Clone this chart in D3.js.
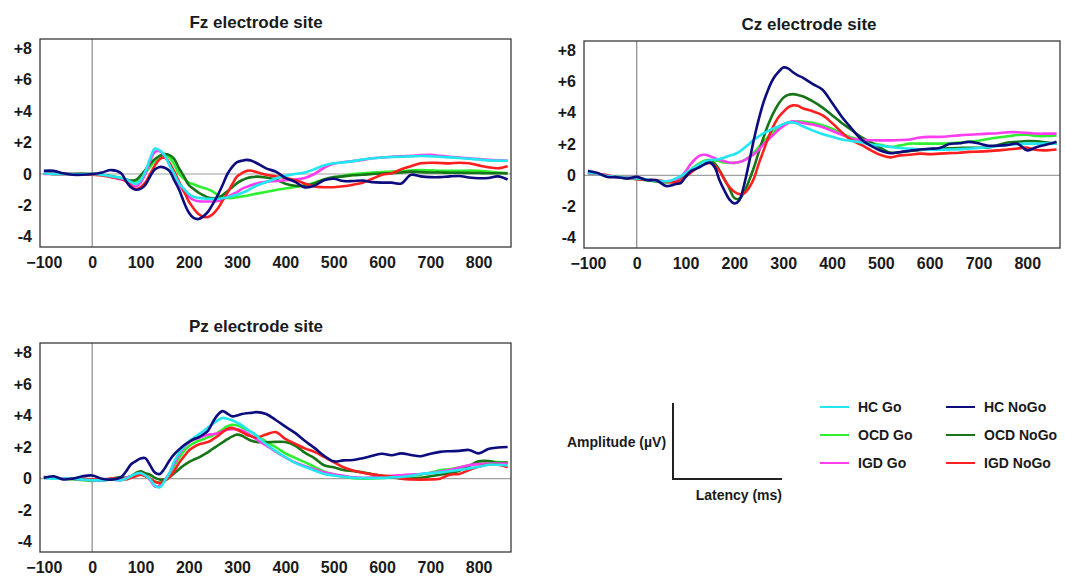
<!DOCTYPE html>
<html><head><meta charset="utf-8">
<script src="https://cdn.jsdelivr.net/npm/d3@7/dist/d3.min.js"></script>
<style>
body{margin:0;background:#fff}
svg{display:block;font-family:"Liberation Sans",Arial,Helvetica,sans-serif;font-weight:bold;}
</style>
</head><body>
<svg id="chart" width="1065" height="578"></svg>
<script>
// ---------------- DATA ----------------
const times = [-100,-80,-60,-40,-20,0,20,40,
  60,70,80,90,100,110,120,130,140,150,160,170,180,190,200,210,220,230,240,250,260,270,280,290,300,310,320,330,340,
  360,380,400,420,440,460,480,500,520,540,560,580,600,620,640,660,680,700,720,740,760,780,800,820,840,860];

const seriesNames  = ["HC Go","HC NoGo","OCD Go","OCD NoGo","IGD Go","IGD NoGo"];
const seriesColors = ["#22e6f0","#0c0c7e","#2ff02f","#167516","#ff3cf0","#ff1f1f"];
const xTicks = [-100,0,100,200,300,400,500,600,700,800];
const yTicks = [-4,-2,0,2,4,6,8];
const panelTitles = ["Fz electrode site","Cz electrode site","Pz electrode site"];

// Fz
const fzHCGo = [0.05,0,0,0,0,0,-0.05,-0.15,
  -0.25,-0.35,-0.5,-0.63,-0.4,0.15,1.0,1.62,1.5,1.2,0.55,0.0,-0.6,-0.95,-1.28,-1.45,-1.52,-1.56,-1.58,-1.6,-1.58,-1.55,-1.48,-1.4,-1.32,-1.2,-1.08,-0.9,-0.75,
  -0.52,-0.28,-0.12,0.0,0.1,0.3,0.55,0.68,0.74,0.82,0.92,1.0,1.05,1.08,1.1,1.12,1.15,1.13,1.1,1.06,1.02,0.97,0.92,0.87,0.85,0.84];
const fzHCNoGo = [0.2,0.2,0.05,-0.05,-0.05,0,0.1,0.25,
  0.05,-0.45,-0.85,-1.0,-0.95,-0.7,-0.15,0.3,0.45,0.4,0.2,-0.4,-1.0,-1.8,-2.45,-2.8,-2.87,-2.7,-2.4,-1.9,-1.35,-0.7,0.0,0.45,0.75,0.85,0.9,0.85,0.7,
  0.36,0.15,-0.25,-0.5,-0.85,-0.75,-0.4,-0.3,-0.45,-0.45,-0.42,-0.52,-0.55,-0.55,-0.6,-0.05,-0.15,-0.2,-0.2,-0.15,-0.13,-0.22,-0.27,-0.25,-0.15,-0.35];
const fzOCDGo = [0.05,0,0,0,0.05,0,-0.05,-0.15,
  -0.25,-0.35,-0.47,-0.45,-0.25,0.05,0.45,0.85,1.15,1.27,1.05,0.6,0.0,-0.3,-0.55,-0.65,-0.78,-0.88,-0.98,-1.12,-1.35,-1.48,-1.53,-1.53,-1.48,-1.43,-1.38,-1.32,-1.25,
  -1.15,-1.02,-0.92,-0.82,-0.72,-0.55,-0.35,-0.25,-0.12,0.0,0.05,0.1,0.13,0.15,0.18,0.22,0.25,0.23,0.21,0.2,0.2,0.22,0.2,0.15,0.1,0.05];
const fzOCDNoGo = [0.05,0,0,0,0,0,-0.05,-0.15,
  -0.3,-0.35,-0.42,-0.38,-0.1,0.25,0.65,0.95,1.15,1.27,1.2,0.95,0.35,-0.15,-0.7,-0.95,-1.18,-1.35,-1.5,-1.55,-1.54,-1.35,-1.1,-0.85,-0.58,-0.4,-0.27,-0.2,-0.17,
  -0.22,-0.35,-0.62,-0.75,-0.75,-0.6,-0.35,-0.2,-0.15,-0.08,-0.05,0.0,0.03,0.05,0.1,0.15,0.12,0.1,0.1,0.08,0.08,0.07,0.06,0.05,0.05,0.04];
const fzIGDGo = [0,0,0,0,0,0,-0.05,-0.2,
  -0.35,-0.45,-0.65,-0.8,-0.55,0.0,0.85,1.4,1.45,1.15,0.65,-0.05,-0.65,-1.15,-1.45,-1.65,-1.73,-1.75,-1.75,-1.75,-1.72,-1.62,-1.47,-1.3,-1.15,-0.95,-0.82,-0.7,-0.6,
  -0.5,-0.45,-0.4,-0.35,-0.25,0.0,0.4,0.65,0.75,0.82,0.9,1.0,1.05,1.1,1.13,1.16,1.2,1.22,1.16,1.1,1.05,1.0,0.95,0.9,0.87,0.85];
const fzIGDNoGo = [0.05,0,0,0,0,-0.05,-0.1,-0.2,
  -0.3,-0.45,-0.75,-0.97,-0.85,-0.55,0.0,0.55,0.95,1.05,0.7,0.15,-0.5,-1.1,-1.75,-2.2,-2.55,-2.72,-2.74,-2.55,-2.2,-1.7,-1.2,-0.65,-0.15,0.05,0.2,0.21,0.12,
  -0.05,-0.15,-0.25,-0.4,-0.6,-0.8,-0.84,-0.84,-0.78,-0.68,-0.55,-0.3,-0.05,0.05,0.3,0.5,0.68,0.72,0.7,0.68,0.72,0.68,0.55,0.43,0.37,0.5];

// Cz
const czHCGo = [0.15,0.1,-0.05,-0.1,-0.15,-0.2,-0.25,-0.35,
  -0.38,-0.34,-0.2,-0.05,0.15,0.35,0.55,0.72,0.9,0.96,1.0,1.05,1.15,1.25,1.35,1.5,1.75,2.0,2.3,2.5,2.7,2.85,3.0,3.12,3.28,3.38,3.38,3.3,3.14,
  2.88,2.65,2.47,2.3,2.2,2.1,1.98,1.9,1.82,1.75,1.7,1.66,1.65,1.65,1.65,1.66,1.7,1.75,1.8,1.88,1.95,2.0,2.03,2.03,2.03,2.03];
const czHCNoGo = [0.28,0.15,-0.1,-0.12,-0.2,-0.1,-0.3,-0.32,
  -0.68,-0.65,-0.55,-0.5,-0.1,0.25,0.4,0.55,0.72,0.82,0.5,-0.35,-1.0,-1.55,-1.8,-1.6,-0.6,0.8,2.3,3.6,4.7,5.55,6.2,6.6,6.9,6.85,6.6,6.4,6.26,
  5.85,5.5,4.65,3.75,3.0,2.3,1.88,1.58,1.42,1.5,1.58,1.65,1.7,1.75,2.0,2.05,2.14,2.05,1.9,1.9,1.95,2.03,1.6,1.82,1.97,2.15];
const czOCDGo = [0.15,0.1,-0.05,-0.1,-0.15,-0.25,-0.3,-0.4,
  -0.45,-0.4,-0.38,-0.25,0.0,0.35,0.6,0.8,0.95,1.0,0.95,0.9,0.82,0.79,0.8,0.85,0.98,1.18,1.45,1.8,2.15,2.5,2.8,3.08,3.25,3.38,3.43,3.46,3.44,
  3.36,3.2,2.98,2.68,2.42,2.25,2.07,1.95,1.82,1.92,2.03,2.03,2.03,2.03,2.05,2.1,2.15,2.22,2.33,2.42,2.5,2.58,2.6,2.52,2.52,2.56];
const czOCDNoGo = [0.15,0.1,-0.05,-0.1,-0.2,-0.22,-0.3,-0.38,
  -0.42,-0.4,-0.35,-0.15,0.1,0.3,0.45,0.65,0.85,0.94,0.75,0.3,-0.25,-0.85,-1.45,-1.5,-1.05,-0.35,0.5,1.5,2.45,3.3,4.0,4.55,4.96,5.15,5.2,5.15,5.06,
  4.75,4.35,3.85,3.35,2.9,2.45,2.1,1.75,1.45,1.48,1.56,1.62,1.68,1.71,1.73,1.75,1.77,1.77,1.78,1.95,2.1,2.15,2.2,2.18,2.1,2.03];
const czIGDGo = [0.15,0.1,0,-0.1,-0.15,-0.2,-0.25,-0.35,
  -0.4,-0.35,-0.28,-0.1,0.25,0.7,1.05,1.28,1.32,1.22,1.1,1.0,0.9,0.82,0.8,0.85,0.96,1.15,1.35,1.65,2.0,2.3,2.6,2.9,3.14,3.35,3.46,3.42,3.36,
  3.25,3.1,2.85,2.6,2.35,2.28,2.25,2.24,2.24,2.26,2.3,2.42,2.46,2.46,2.5,2.56,2.6,2.63,2.67,2.7,2.76,2.76,2.72,2.67,2.67,2.67];
const czIGDNoGo = [0.15,0.1,0,-0.1,-0.15,-0.25,-0.28,-0.3,
  -0.4,-0.45,-0.45,-0.35,-0.1,0.15,0.4,0.62,0.75,0.79,0.6,0.26,-0.3,-0.75,-1.05,-1.2,-1.15,-0.8,-0.2,0.75,1.6,2.45,3.15,3.7,4.05,4.35,4.48,4.45,4.3,
  4.1,3.85,3.35,2.75,2.25,1.95,1.6,1.3,1.15,1.28,1.32,1.39,1.36,1.39,1.42,1.45,1.5,1.52,1.55,1.6,1.65,1.72,1.77,1.62,1.6,1.65];

// Pz
const pzHCGo = [0.05,0,0,0,-0.05,-0.1,-0.1,-0.05,
  -0.1,0,0.15,0.3,0.36,0.2,-0.05,-0.45,-0.55,-0.15,0.35,1.1,1.65,2.05,2.35,2.58,2.8,3.0,3.25,3.48,3.7,3.85,3.8,3.7,3.55,3.38,3.15,2.95,2.72,
  2.2,1.75,1.36,1.0,0.75,0.52,0.3,0.2,0.12,0.06,0.04,0.04,0.05,0.08,0.1,0.18,0.3,0.35,0.4,0.47,0.55,0.65,0.75,0.88,0.88,0.83];
const pzHCNoGo = [0.05,0.15,-0.05,0,0.15,0.2,0,-0.06,
  0.1,0.45,0.9,1.1,1.28,1.3,0.85,0.38,0.3,0.65,1.15,1.55,1.85,2.12,2.32,2.5,2.62,2.8,3.05,3.6,4.05,4.28,4.12,3.95,4.0,4.1,4.15,4.17,4.22,
  4.1,3.72,3.3,2.9,2.4,1.95,1.45,1.1,1.16,1.18,1.3,1.45,1.58,1.48,1.6,1.5,1.42,1.58,1.7,1.74,1.76,1.82,1.6,1.88,1.97,2.01];
const pzOCDGo = [0.1,0.05,0,-0.05,-0.1,-0.15,-0.12,-0.05,
  -0.05,0.05,0.15,0.22,0.28,0.2,0,-0.2,-0.22,-0.05,0.3,0.8,1.3,1.75,2.05,2.25,2.4,2.5,2.62,2.75,2.92,3.12,3.32,3.42,3.38,3.25,3.1,2.95,2.75,
  2.35,2.0,1.6,1.32,1.05,0.75,0.45,0.28,0.12,0.03,0.0,0.02,0.05,0.08,0.12,0.18,0.25,0.38,0.53,0.6,0.7,0.85,0.98,1.1,1.05,1.0];
const pzOCDNoGo = [0.1,0.05,0,0,-0.05,-0.1,-0.1,0,
  0.1,0.05,0.15,0.35,0.47,0.35,0.25,0.05,-0.05,-0.05,0.1,0.35,0.6,0.85,1.05,1.2,1.33,1.5,1.68,1.9,2.1,2.3,2.5,2.68,2.79,2.72,2.55,2.4,2.33,
  2.31,2.33,2.32,2.1,1.65,1.3,0.85,0.72,0.55,0.48,0.4,0.28,0.18,0.08,0.02,0.0,0.05,0.15,0.25,0.35,0.5,0.8,1.1,1.12,1.0,1.04];
const pzIGDGo = [0.1,0.05,0,0,-0.05,-0.1,-0.1,-0.05,
  -0.1,0.05,0.15,0.25,0.35,0.2,-0.1,-0.5,-0.45,-0.1,0.35,0.95,1.55,2.0,2.3,2.48,2.58,2.68,2.78,2.82,2.88,3.0,3.11,3.14,3.13,3.05,2.9,2.7,2.5,
  2.1,1.72,1.35,1.03,0.8,0.6,0.4,0.28,0.18,0.08,0.05,0.08,0.12,0.18,0.22,0.26,0.3,0.36,0.45,0.55,0.7,0.85,0.92,0.95,0.95,0.95];
const pzIGDNoGo = [0.05,0.05,0,0,0,-0.05,-0.05,0,
  0,-0.05,0.05,0.15,0.25,0.15,0,-0.2,-0.28,-0.15,0.1,0.5,1.0,1.4,1.78,2.0,2.16,2.25,2.33,2.5,2.7,2.95,3.15,3.22,3.1,2.95,2.78,2.68,2.6,
  2.8,2.95,2.52,2.22,1.92,1.7,1.38,1.05,0.72,0.52,0.38,0.27,0.2,0.14,0.0,-0.05,-0.06,-0.05,0.0,0.25,0.3,0.55,0.75,0.9,0.88,0.72];

// ---------------- LAYOUT ----------------
const svg = d3.select("#chart");
const xDomain = [-108, 867];
const yDomain = [-4.65, 8.6];
const drawOrder = [2, 3, 4, 5, 0, 1];

const panels = [
  {title: panelTitles[0], left: 40,  right: 511,  top: 39,  bottom: 247, titleX: 256,
   series: [fzHCGo, fzHCNoGo, fzOCDGo, fzOCDNoGo, fzIGDGo, fzIGDNoGo]},
  {title: panelTitles[1], left: 584, right: 1060, top: 41,  bottom: 248, titleX: 809,
   series: [czHCGo, czHCNoGo, czOCDGo, czOCDNoGo, czIGDGo, czIGDNoGo]},
  {title: panelTitles[2], left: 40,  right: 511,  top: 343, bottom: 552, titleX: 256,
   series: [pzHCGo, pzHCNoGo, pzOCDGo, pzOCDNoGo, pzIGDGo, pzIGDNoGo]}
];

panels.forEach(p => {
  p.series.forEach((s, i) => {
    if (s.length !== times.length) console.error(p.title, seriesNames[i], s.length, times.length);
  });
  const x = d3.scaleLinear().domain(xDomain).range([p.left, p.right]);
  const y = d3.scaleLinear().domain(yDomain).range([p.bottom, p.top]);
  const g = svg.append("g");

  // title
  g.append("text")
    .attr("x", p.titleX)
    .attr("y", p.top - 11)
    .attr("text-anchor", "middle")
    .attr("font-size", 17)
    .attr("fill", "#1a1a1a")
    .text(p.title);

  // zero lines
  g.append("line")
    .attr("x1", p.left).attr("x2", p.right)
    .attr("y1", y(0)).attr("y2", y(0))
    .attr("stroke", "#a0a0a0").attr("stroke-width", 1.2);
  g.append("line")
    .attr("x1", x(0)).attr("x2", x(0))
    .attr("y1", p.top).attr("y2", p.bottom)
    .attr("stroke", "#8a8a8a").attr("stroke-width", 1.2);

  // axes
  const yAxis = d3.axisLeft(y).tickValues(yTicks).tickSize(0).tickPadding(8)
    .tickFormat(d => d > 0 ? "+" + d : String(d));
  const ya = g.append("g").attr("transform", `translate(${p.left},0)`).call(yAxis);
  ya.select(".domain").remove();
  ya.selectAll("text").attr("font-size", 16).attr("font-family", null).attr("fill", "#1a1a1a");

  const xAxis = d3.axisBottom(x).tickValues(xTicks).tickSize(0).tickPadding(10);
  const xa = g.append("g").attr("transform", `translate(0,${p.bottom})`).call(xAxis);
  xa.select(".domain").remove();
  xa.selectAll("text").attr("font-size", 16).attr("font-family", null).attr("fill", "#1a1a1a");

  // series
  const line = d3.line()
    .x((d, i) => x(times[i]))
    .y(d => y(d))
    .curve(d3.curveCatmullRom.alpha(0.5));
  drawOrder.forEach(i => {
    g.append("path")
      .datum(p.series[i])
      .attr("d", line)
      .attr("fill", "none")
      .attr("stroke", seriesColors[i])
      .attr("stroke-width", 2.6)
      .attr("stroke-linejoin", "round");
  });

  // frame
  g.append("rect")
    .attr("x", p.left).attr("y", p.top)
    .attr("width", p.right - p.left).attr("height", p.bottom - p.top)
    .attr("fill", "none").attr("stroke", "#3a3a3a").attr("stroke-width", 1.3);
});

// ---------------- SCALE BAR ----------------
const sb = svg.append("g");
sb.append("path")
  .attr("d", d3.line()([[673, 403], [673, 479], [782, 479]]))
  .attr("fill", "none").attr("stroke", "#222").attr("stroke-width", 2);
sb.append("text").attr("x", 567).attr("y", 447).attr("font-size", 14).attr("fill", "#1a1a1a").text("Amplitude (µV)");
sb.append("text").attr("x", 782).attr("y", 500).attr("text-anchor", "end").attr("font-size", 14).attr("fill", "#1a1a1a").text("Latency (ms)");

// ---------------- LEGEND ----------------
const legendCols = [820, 946];
const legendRows = [407, 435, 463];
const legendOrder = [[0, 2, 4], [1, 3, 5]];
const lg = svg.append("g");
legendOrder.forEach((col, ci) => {
  col.forEach((si, ri) => {
    const lx = legendCols[ci], ly = legendRows[ri];
    lg.append("line").attr("x1", lx).attr("x2", lx + 29).attr("y1", ly).attr("y2", ly)
      .attr("stroke", seriesColors[si]).attr("stroke-width", 2);
    lg.append("text").attr("x", lx + 38).attr("y", ly + 5).attr("font-size", 14)
      .attr("fill", "#1a1a1a").text(seriesNames[si]);
  });
});
</script>
</body></html>
